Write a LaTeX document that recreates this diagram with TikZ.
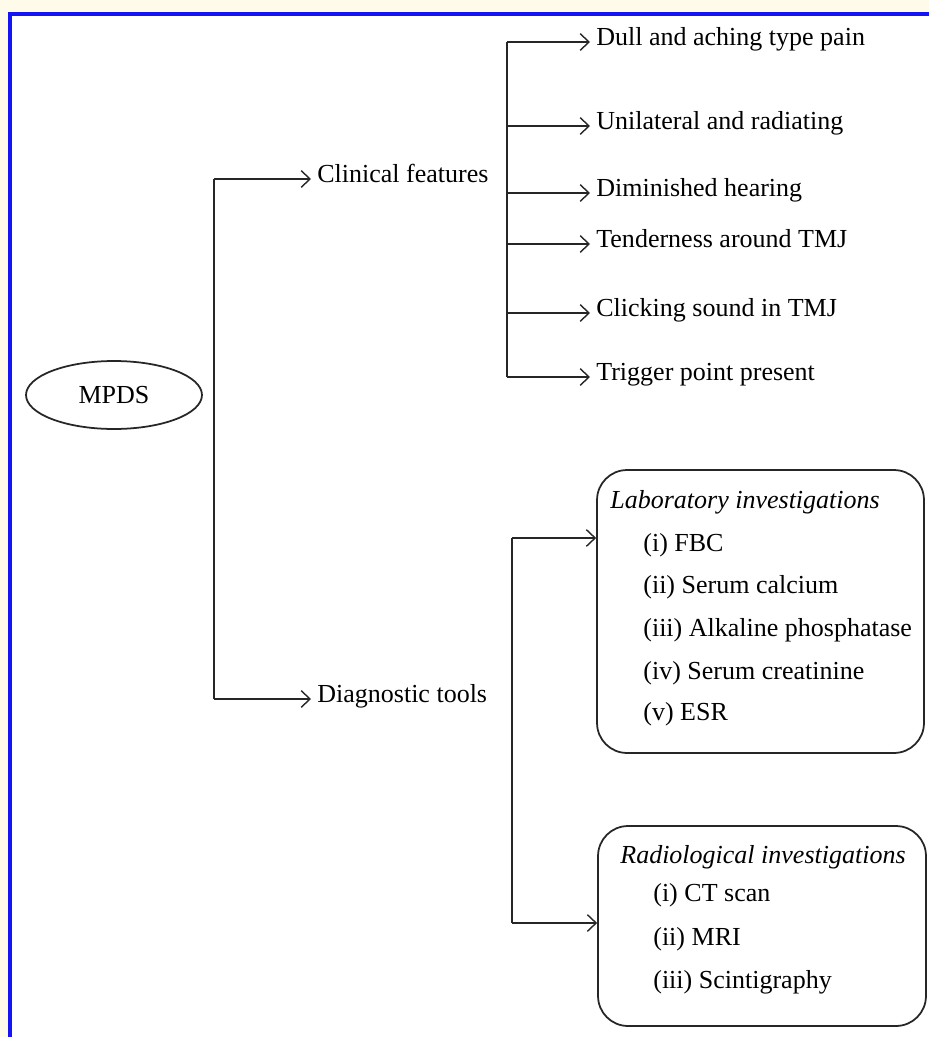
\documentclass[tikz,border=0pt]{standalone}
\usepackage{fontspec}
\setmainfont{Liberation Serif}
\usepackage{tikz}
\usetikzlibrary{arrows.meta,shapes.geometric}
\definecolor{pageyellow}{RGB}{255,251,235}
\definecolor{rimblue}{RGB}{20,20,245}
\tikzset{
  txt/.style={anchor=west, inner ysep=0pt, inner xsep=0.12cm, text height=1.55ex, text depth=0.65ex, font=\fontsize{14.8pt}{17pt}\selectfont},
  line/.style={line width=1pt, color=black!85},
  link/.style={line, -{Straight Barb[length=5pt,width=9.5pt,line width=0.8pt]}},
  itembox/.style={draw, line width=1pt, color=black!85, text=black, rounded corners=0.6cm, inner sep=0pt}
}

\begin{document}
\begin{tikzpicture}[x=0.02cm, y=-0.02cm]
			%%%%% START %%%%%
			\useasboundingbox (0, 0) rectangle (929, 1037);
			
			\fill[pageyellow] (0, 0) rectangle (929, 1037);
			\fill[white] (10, 14) rectangle (929, 1037);
			\draw[line width=0.065cm, color=rimblue] (929, 14) -- (10, 14) -- (10, 1037);
			
			\node[ellipse, draw, line width=1pt, color=black!85, text=black, minimum width=3.52cm, minimum height=1.36cm, inner sep=0pt, font=\fontsize{14.8pt}{17pt}\selectfont] (mpds) at (114, 395) {MPDS};
			
			% first level
			\coordinate (mtop) at (214, 179);
			\coordinate (mbot) at (214, 699);
			\node[txt] (clin) at (311, 179) {Clinical features};
			\node[txt] (diag) at (311, 699) {Diagnostic tools};
			\draw[line] (mtop) -- (mbot);
			\draw[link] (mtop) -- (clin.west);
			\draw[link] (mbot) -- (diag.west);
			
			% clinical features
			\coordinate (cbar) at (507, 0);
			\node[txt] (f1) at (590, 42) {Dull and aching type pain};
			\node[txt] (f2) at (590, 126) {Unilateral and radiating};
			\node[txt] (f3) at (590, 193) {Diminished hearing};
			\node[txt] (f4) at (590, 244) {Tenderness around TMJ};
			\node[txt] (f5) at (590, 313) {Clicking sound in TMJ};
			\node[txt] (f6) at (590, 377) {Trigger point present};
			\draw[line] (f1.west -| cbar) -- (f6.west -| cbar);
			\draw[link] (f1.west -| cbar) -- (f1.west);
			\draw[link] (f2.west -| cbar) -- (f2.west);
			\draw[link] (f3.west -| cbar) -- (f3.west);
			\draw[link] (f4.west -| cbar) -- (f4.west);
			\draw[link] (f5.west -| cbar) -- (f5.west);
			\draw[link] (f6.west -| cbar) -- (f6.west);
			
			% diagnostic tools
			\node[itembox, minimum width=6.54cm, minimum height=5.66cm] (labbox) at (760.5, 611.5) {};
			\node[itembox, minimum width=6.56cm, minimum height=4cm] (radbox) at (762, 926) {};
			\coordinate (dtop) at (512, 538);
			\coordinate (dbot) at (512, 923);
			\draw[line] (dtop) -- (dbot);
			\draw[link] (dtop) -- (dtop -| labbox.west);
			\draw[link] (dbot) -- (dbot -| radbox.west);
			
			\node[txt, inner xsep=0pt] (labttl) at (610, 505) {\itshape Laboratory investigations};
			\node[txt, inner xsep=0pt] (lab1) at (643, 548) {(i) FBC};
			\node[txt, inner xsep=0pt] (lab2) at (643, 590) {(ii) Serum calcium};
			\node[txt, inner xsep=0pt] (lab3) at (643, 633) {(iii) Alkaline phosphatase};
			\node[txt, inner xsep=0pt] (lab4) at (643, 676) {(iv) Serum creatinine};
			\node[txt, inner xsep=0pt] (lab5) at (643, 717) {(v) ESR};
			
			\node[txt, inner xsep=0pt] (radttl) at (620, 860) {\itshape Radiological investigations};
			\node[txt, inner xsep=0pt] (rad1) at (653, 898) {(i) CT scan};
			\node[txt, inner xsep=0pt] (rad2) at (653, 942) {(ii) MRI};
			\node[txt, inner xsep=0pt] (rad3) at (653, 985) {(iii) Scintigraphy};
			%%%%% END %%%%%
		\end{tikzpicture}
\end{document}
